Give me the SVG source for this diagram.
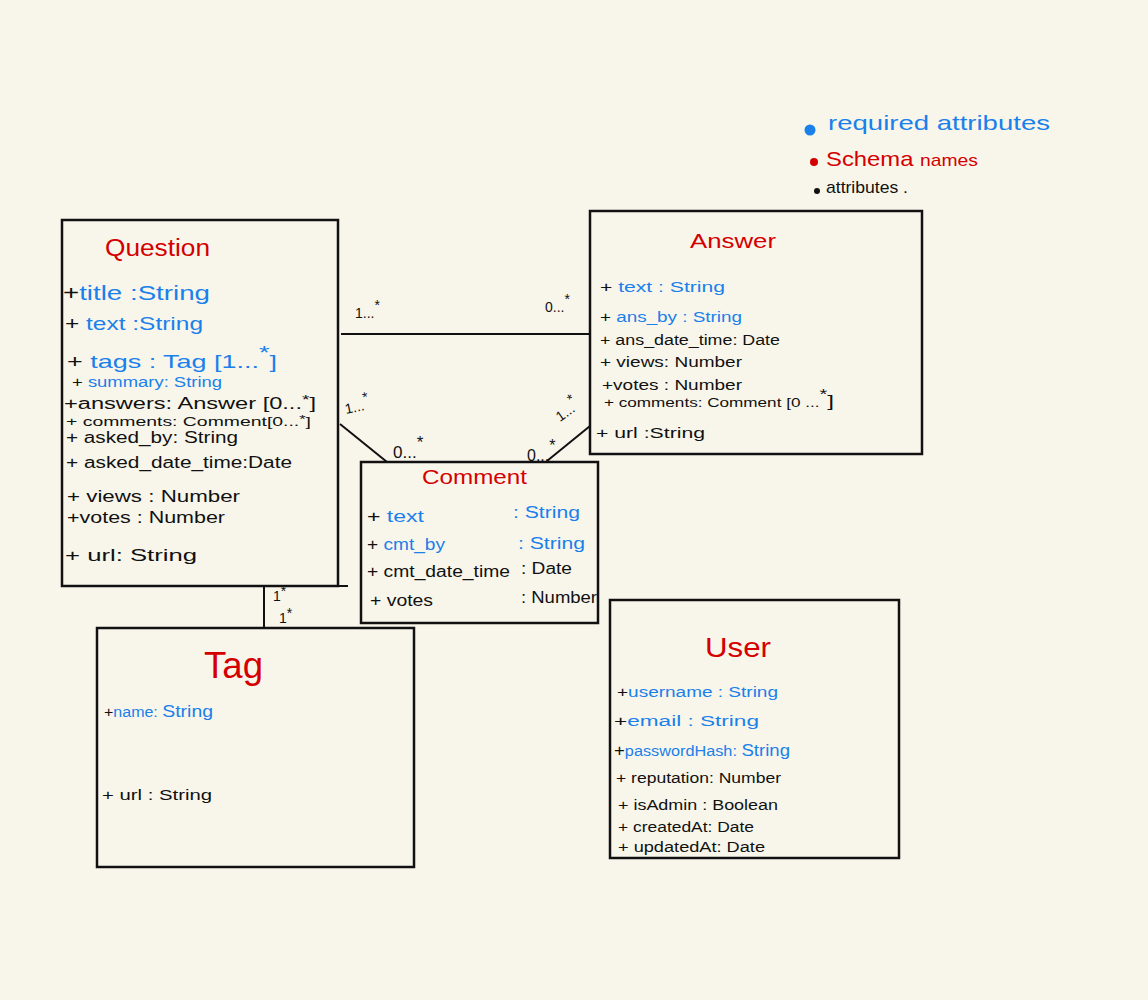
<svg xmlns="http://www.w3.org/2000/svg" width="1148" height="1000" viewBox="0 0 1148 1000">
<style>
text{font-family:"Liberation Sans","DejaVu Sans",sans-serif;fill:#111}
.box{fill:none;stroke:#111;stroke-width:2.5}
.ln{stroke:#111;stroke-width:2;fill:none}
.t{fill:#d40000;font-size:22px}
.b{fill:#1a80ea}
.k{fill:#111}
.m{font-size:14px}
.a{font-size:16px}
.s{font-size:12px}
</style>
<rect x="0" y="0" width="1148" height="1000" fill="#f8f6eb"/>
<g id="legend">
<circle cx="810" cy="130" r="5.5" fill="#1a80ea"/>
<text x="828" y="130" textLength="222" lengthAdjust="spacingAndGlyphs" style="font-size:21px;fill:#1a80ea">required  attributes</text>
<circle cx="814" cy="162" r="4" fill="#d40000"/>
<text x="826" y="166" textLength="152" lengthAdjust="spacingAndGlyphs" style="font-size:21px;fill:#d40000">Schema <tspan style="font-size:17px">names</tspan></text>
<circle cx="817" cy="191" r="3" fill="#111"/>
<text x="826" y="193" textLength="82" lengthAdjust="spacingAndGlyphs" style="font-size:17px">attributes .</text>
</g>
<g id="connectors">
<line class="ln" x1="341" y1="334" x2="590" y2="334"/>
<line class="ln" x1="340" y1="424" x2="387" y2="462"/>
<line class="ln" x1="590" y1="426" x2="547" y2="461"/>
<line class="ln" x1="264" y1="586" x2="264" y2="628"/>
<text x="355" y="318" class="m">1...<tspan dy="-8">*</tspan></text>
<text x="545" y="312" class="m">0...<tspan dy="-8">*</tspan></text>
<text x="346" y="414" class="m" transform="rotate(-12 346 414)">1...<tspan dy="-8">*</tspan></text>
<text x="393" y="458" class="m" style="font-size:17px">0...<tspan dy="-10">*</tspan></text>
<text x="560" y="422" class="m" transform="rotate(-35 560 422)">1...<tspan dy="-8">*</tspan></text>
<text x="527" y="461" class="m" style="font-size:16px">0...<tspan dy="-10">*</tspan></text>
<text x="273" y="601" class="m">1<tspan dy="-5">*</tspan></text>
<text x="279" y="623" class="m">1<tspan dy="-5">*</tspan></text>
</g>
<g id="question">
<rect class="box" x="62" y="220" width="276" height="366"/>
<line class="ln" x1="338" y1="586" x2="348" y2="586"/>
<text x="105" y="256" class="t" textLength="105" lengthAdjust="spacingAndGlyphs" style="font-size:23px">Question</text>
<text x="63" y="300" textLength="147" lengthAdjust="spacingAndGlyphs" style="font-size:20px"><tspan class="k">+</tspan><tspan class="b">title  :String</tspan></text>
<text x="65" y="330" textLength="138" lengthAdjust="spacingAndGlyphs" style="font-size:19px"><tspan class="k">+ </tspan><tspan class="b">text :String</tspan></text>
<text x="67" y="368" textLength="210" lengthAdjust="spacingAndGlyphs" style="font-size:19px"><tspan class="k">+  </tspan><tspan class="b">tags  : Tag [1...<tspan dy="-9">*</tspan><tspan dy="9">]</tspan></tspan></text>
<text x="72" y="387" class="m" textLength="150" lengthAdjust="spacingAndGlyphs"><tspan class="k">+ </tspan><tspan class="b">summary: String</tspan></text>
<text x="64" y="409" class="a" textLength="252" lengthAdjust="spacingAndGlyphs">+answers:  Answer [0...<tspan dy="-5" style="font-size:13px">*</tspan><tspan dy="5">]</tspan></text>
<text x="66" y="426" style="font-size:13px" textLength="245" lengthAdjust="spacingAndGlyphs">+ comments: Comment[0...<tspan dy="-3" style="font-size:11px">*</tspan><tspan dy="3">]</tspan></text>
<text x="66" y="443" class="a" textLength="172" lengthAdjust="spacingAndGlyphs">+ asked_by: String</text>
<text x="66" y="468" class="a" textLength="226" lengthAdjust="spacingAndGlyphs">+ asked_date_time:Date</text>
<text x="67" y="502" class="a" textLength="173" lengthAdjust="spacingAndGlyphs">+ views  : Number</text>
<text x="67" y="523" class="a" textLength="158" lengthAdjust="spacingAndGlyphs">+votes    : Number</text>
<text x="65" y="561" class="a" textLength="132" lengthAdjust="spacingAndGlyphs">+  url: String</text>
</g>
<g id="answer">
<rect class="box" x="590" y="211" width="332" height="243"/>
<text x="690" y="248" class="t" textLength="86" lengthAdjust="spacingAndGlyphs" style="font-size:20px">Answer</text>
<text x="600" y="292" class="m" textLength="125" lengthAdjust="spacingAndGlyphs"><tspan class="k">+  </tspan><tspan class="b">text : String</tspan></text>
<text x="600" y="322" class="m" textLength="142" lengthAdjust="spacingAndGlyphs"><tspan class="k">+   </tspan><tspan class="b">ans_by : String</tspan></text>
<text x="600" y="345" class="m" textLength="180" lengthAdjust="spacingAndGlyphs">+  ans_date_time: Date</text>
<text x="600" y="367" class="m" textLength="142" lengthAdjust="spacingAndGlyphs">+ views: Number</text>
<text x="602" y="390" class="m" textLength="140" lengthAdjust="spacingAndGlyphs">+votes  : Number</text>
<text x="604" y="407" style="font-size:12px" textLength="230" lengthAdjust="spacingAndGlyphs">+ comments: Comment [0 ...<tspan dy="-8" style="font-size:14px">*</tspan><tspan dy="8" style="font-size:17px">]</tspan></text>
<text x="596" y="438" class="m" textLength="109" lengthAdjust="spacingAndGlyphs">+   url :String</text>
</g>
<g id="comment">
<rect class="box" x="361" y="462" width="237" height="161"/>
<text x="422" y="484" class="t" textLength="105" lengthAdjust="spacingAndGlyphs" style="font-size:20px">Comment</text>
<text x="367" y="522" class="a" textLength="57" lengthAdjust="spacingAndGlyphs"><tspan class="k">+ </tspan><tspan class="b">text</tspan></text>
<text x="513" y="518" class="a b" textLength="67" lengthAdjust="spacingAndGlyphs">: String</text>
<text x="367" y="550" class="a" textLength="78" lengthAdjust="spacingAndGlyphs"><tspan class="k">+ </tspan><tspan class="b">cmt_by</tspan></text>
<text x="518" y="549" class="a b" textLength="67" lengthAdjust="spacingAndGlyphs">: String</text>
<text x="367" y="577" class="a" textLength="143" lengthAdjust="spacingAndGlyphs">+ cmt_date_time</text>
<text x="521" y="574" class="a" textLength="51" lengthAdjust="spacingAndGlyphs">: Date</text>
<text x="370" y="606" class="a" textLength="63" lengthAdjust="spacingAndGlyphs">+ votes</text>
<text x="521" y="603" class="a" textLength="76" lengthAdjust="spacingAndGlyphs">: Number</text>
</g>
<g id="tag">
<rect class="box" x="97" y="628" width="317" height="239"/>
<text x="204" y="678" class="t" textLength="59" lengthAdjust="spacingAndGlyphs" style="font-size:36px">Tag</text>
<text x="104" y="717" class="m" textLength="109" lengthAdjust="spacingAndGlyphs"><tspan class="k">+</tspan><tspan class="b">name: </tspan><tspan class="b" style="font-size:17px">String</tspan></text>
<text x="102" y="800" class="m" textLength="110" lengthAdjust="spacingAndGlyphs">+ url : String</text>
</g>
<g id="user">
<rect class="box" x="610" y="600" width="289" height="258"/>
<text x="705" y="657" class="t" textLength="66" lengthAdjust="spacingAndGlyphs" style="font-size:28px">User</text>
<text x="617" y="697" class="m" textLength="161" lengthAdjust="spacingAndGlyphs"><tspan class="k">+</tspan><tspan class="b">username  :  String</tspan></text>
<text x="614" y="726" class="m" textLength="145" lengthAdjust="spacingAndGlyphs"><tspan class="k">+</tspan><tspan class="b">email :     String</tspan></text>
<text x="614" y="756" class="m" textLength="176" lengthAdjust="spacingAndGlyphs"><tspan class="k" style="font-size:16px">+</tspan><tspan class="b">passwordHash: <tspan style="font-size:16px">String</tspan></tspan></text>
<text x="616" y="783" class="m" textLength="165" lengthAdjust="spacingAndGlyphs">+ reputation:  Number</text>
<text x="618" y="810" class="m" textLength="160" lengthAdjust="spacingAndGlyphs">+   isAdmin : Boolean</text>
<text x="618" y="832" class="m" textLength="136" lengthAdjust="spacingAndGlyphs">+   createdAt: Date</text>
<text x="618" y="852" class="m" textLength="147" lengthAdjust="spacingAndGlyphs">+   updatedAt: Date</text>
</g>
</svg>
